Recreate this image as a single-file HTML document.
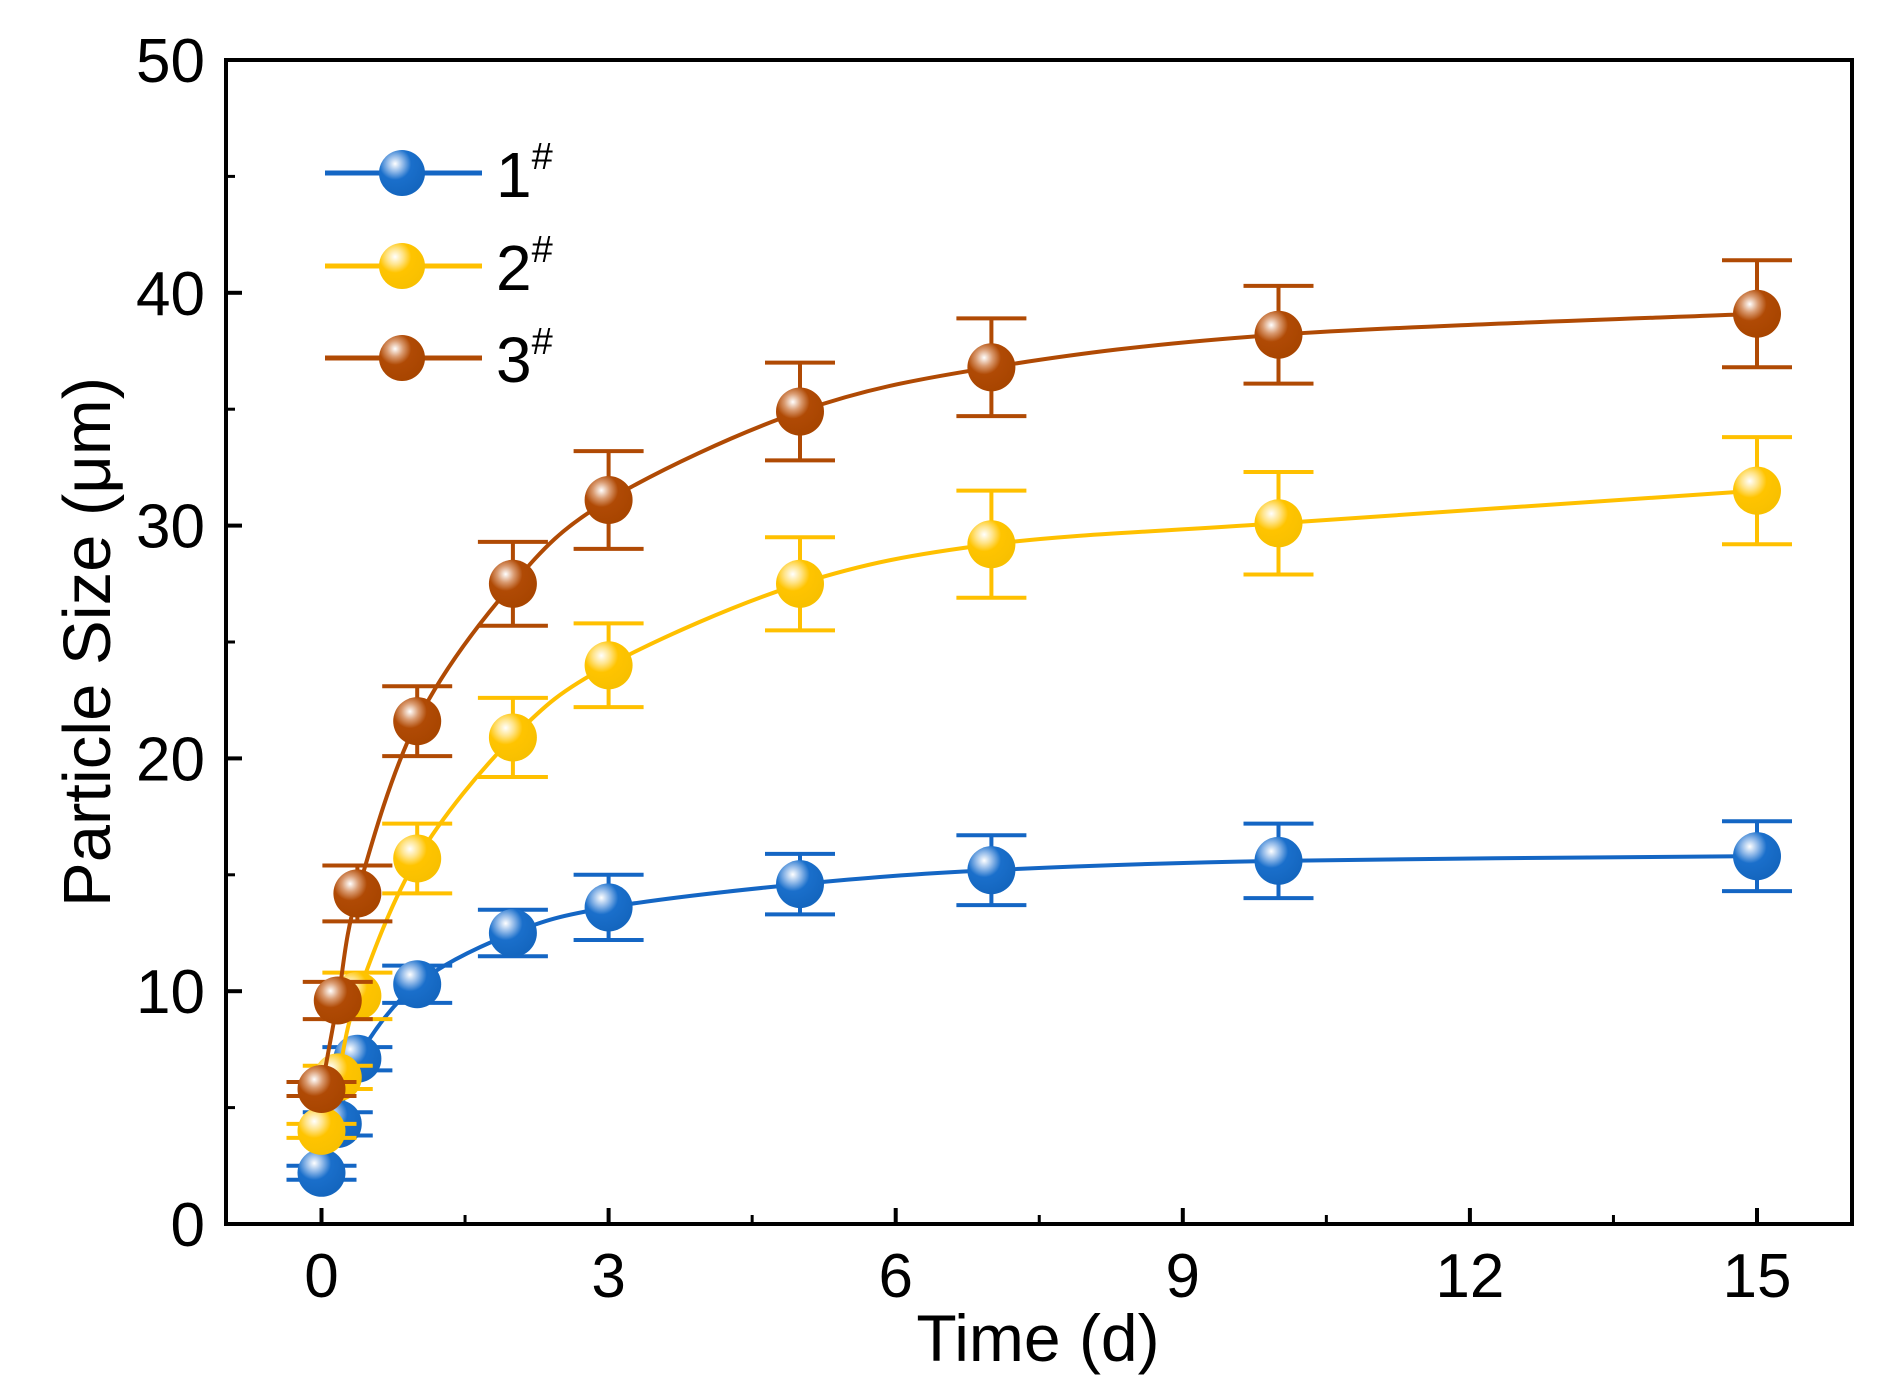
<!DOCTYPE html>
<html><head><meta charset="utf-8"><style>
html,body{margin:0;padding:0;background:#fff}
svg{display:block}
text{font-family:"Liberation Sans",Arial,sans-serif;fill:#000}
</style></head><body>
<svg id="chart" width="1888" height="1397" viewBox="0 0 1888 1397">
<defs>
<radialGradient id="gb" cx="0.35" cy="0.3" r="0.7"><stop offset="0" stop-color="#fff"/><stop offset="0.25" stop-color="#8fb8e8"/><stop offset="0.5" stop-color="#1a6fcb"/><stop offset="1" stop-color="#1466bf"/></radialGradient>
<radialGradient id="gy" cx="0.35" cy="0.3" r="0.7"><stop offset="0" stop-color="#fff"/><stop offset="0.25" stop-color="#ffe48a"/><stop offset="0.5" stop-color="#ffc400"/><stop offset="1" stop-color="#f8c000"/></radialGradient>
<radialGradient id="gr" cx="0.35" cy="0.3" r="0.7"><stop offset="0" stop-color="#fff"/><stop offset="0.25" stop-color="#d99a70"/><stop offset="0.5" stop-color="#b04a05"/><stop offset="1" stop-color="#a84500"/></radialGradient>
</defs>
<g id="plot"></g>
</svg>
<script>
const times = [0, 0.17, 0.375, 1, 2, 3, 5, 7, 10, 15];
const s1 = [2.2, 4.3, 7.1, 10.3, 12.5, 13.6, 14.6, 15.2, 15.6, 15.8];
const e1 = [0.3, 0.5, 0.5, 0.8, 1.0, 1.4, 1.3, 1.5, 1.6, 1.5];
const s2 = [4.0, 6.3, 9.8, 15.7, 20.9, 24.0, 27.5, 29.2, 30.1, 31.5];
const e2 = [0.3, 0.5, 1.0, 1.5, 1.7, 1.8, 2.0, 2.3, 2.2, 2.3];
const s3 = [5.8, 9.6, 14.2, 21.6, 27.5, 31.1, 34.9, 36.8, 38.2, 39.1];
const e3 = [0.3, 0.8, 1.2, 1.5, 1.8, 2.1, 2.1, 2.1, 2.1, 2.3];
const xTicks = [0, 3, 6, 9, 12, 15];
const yTicks = [0, 10, 20, 30, 40, 50];
const seriesNames = ['1', '2', '3'];

const NS = 'http://www.w3.org/2000/svg';
const L = 226, R = 1852, T = 60, B = 1224;
const X = t => 321.5 + t * (1757 - 321.5) / 15;
const Y = v => B - v * (B - T) / 50;
const g = document.getElementById('plot');
function mk(tag, attrs, parent) {
  const e = document.createElementNS(NS, tag);
  for (const k in attrs) e.setAttribute(k, attrs[k]);
  (parent || g).appendChild(e);
  return e;
}
function smooth(pts) {
  let d = 'M' + pts[0][0] + ',' + pts[0][1];
  for (let i = 0; i < pts.length - 1; i++) {
    const p0 = pts[i - 1] || pts[i], p1 = pts[i], p2 = pts[i + 1], p3 = pts[i + 2] || p2;
    const c1 = [p1[0] + (p2[0] - p0[0]) / 6, p1[1] + (p2[1] - p0[1]) / 6];
    const c2 = [p2[0] - (p3[0] - p1[0]) / 6, p2[1] - (p3[1] - p1[1]) / 6];
    d += ' C' + c1 + ' ' + c2 + ' ' + p2;
  }
  return d;
}
const frame = mk('rect', {x: L, y: T, width: R - L, height: B - T, fill: 'none', stroke: '#000', 'stroke-width': 4});


xTicks.forEach((t, i) => {
  const tk = mk('line', {x1: X(t), x2: X(t), y1: B, y2: B - 16, stroke: '#000', 'stroke-width': 4});
  
  
  const lb = mk('text', {x: X(t), y: 1297, 'font-size': 62, 'text-anchor': 'middle'});
  lb.textContent = t;
  
  
  if (i < xTicks.length - 1) {
    const mt = mk('line', {x1: X(t + 1.5), x2: X(t + 1.5), y1: B, y2: B - 9, stroke: '#000', 'stroke-width': 3});
    
    
  }
});
{
  const mt = mk('line', {x1: X(16.5), x2: X(16.5), y1: B, y2: B - 9, stroke: '#000', 'stroke-width': 3});
  
  
}
yTicks.forEach((v, i) => {
  const tk = mk('line', {x1: L, x2: L + 16, y1: Y(v), y2: Y(v), stroke: '#000', 'stroke-width': 4});
  
  
  const lb = mk('text', {x: 205, y: Y(v) + 22, 'font-size': 62, 'text-anchor': 'end'});
  lb.textContent = v;
  
  
  if (i < yTicks.length - 1) {
    const mt = mk('line', {x1: L, x2: L + 9, y1: Y(v + 5), y2: Y(v + 5), stroke: '#000', 'stroke-width': 3});
    
    
  }
});
const xt = mk('text', {x: 1038, y: 1361, 'font-size': 66, 'text-anchor': 'middle'});
xt.textContent = 'Time (d)';


const yt = mk('text', {x: 0, y: 0, 'font-size': 67, 'text-anchor': 'middle', transform: 'translate(110,642) rotate(-90)'});
yt.textContent = 'Particle Size (μm)';



const series = [[s1, e1, '#1466c4', 'url(#gb)'], [s2, e2, '#ffc000', 'url(#gy)'], [s3, e3, '#b04a04', 'url(#gr)']];
series.forEach(([vals, errs, col, grad], si) => {
  const sg = mk('g', {});
  
  
  const ln = mk('path', {d: smooth(times.map((t, i) => [X(t), Y(vals[i])])), fill: 'none', stroke: col, 'stroke-width': 4}, sg);
  
  
  times.forEach((t, i) => {
    const x = X(t), y1 = Y(vals[i] + errs[i]), y2 = Y(vals[i] - errs[i]);
    const eb = mk('path', {d: `M${x},${y1}V${y2}M${x - 35},${y1}H${x + 35}M${x - 35},${y2}H${x + 35}`, stroke: col, 'stroke-width': 4, fill: 'none'}, sg);
    
    
  });
  times.forEach((t, i) => {
    const c = mk('circle', {cx: X(t), cy: Y(vals[i]), r: 24, fill: grad}, sg);
    
    
  });
});
const leg = mk('g', {});


[173, 266, 358].forEach((y, i) => {
  const [, , col, grad] = series[i];
  const ent = mk('g', {}, leg);
  
  
  mk('line', {x1: 325, x2: 482, y1: y, y2: y, stroke: col, 'stroke-width': 5}, ent);
  mk('circle', {cx: 402, cy: y, r: 23, fill: grad}, ent);
  const tx = mk('text', {x: 496, y: y + 24, 'font-size': 64}, ent);
  tx.textContent = seriesNames[i];
  const sup = mk('tspan', {dy: -28, 'font-size': 38}, tx);
  sup.textContent = '#';
});
</script>
</body></html>
